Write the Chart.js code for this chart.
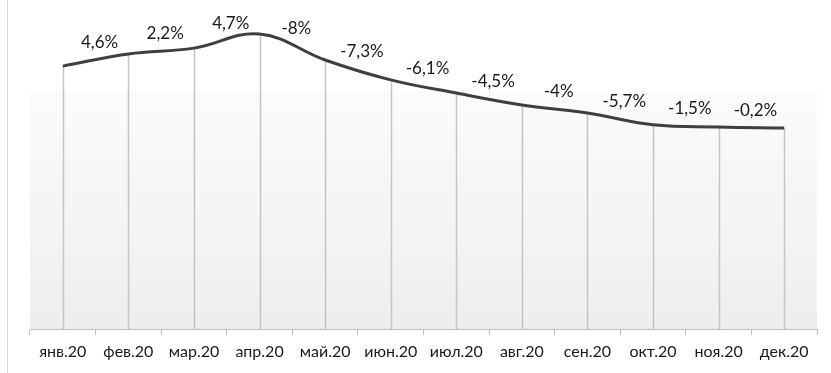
<!DOCTYPE html>
<html>
<head>
<meta charset="utf-8">
<script src="https://cdn.jsdelivr.net/npm/chart.js@4/dist/chart.umd.min.js"></script>
<style>
  html, body { margin: 0; padding: 0; background: #fff; }
  #wrap { width: 831px; height: 373px; }
</style>
</head>
<body>
<div id="wrap"><canvas id="myChart" width="831" height="373"></canvas></div>
<script>
const months = ["янв.20", "фев.20", "мар.20", "апр.20", "май.20", "июн.20",
                "июл.20", "авг.20", "сен.20", "окт.20", "ноя.20", "дек.20"];
const level = [81.9, 85.7, 87.5, 91.9, 83.8, 77.6, 73.5, 69.8, 67.3, 63.6, 62.9, 62.6];
// month-to-month change, shown between neighbouring points
const change = [4.6, 2.2, 4.7, -8, -7.3, -6.1, -4.5, -4, -5.7, -1.5, -0.2];

const fmt = v => String(v).replace(".", ",") + "%";

// plot background, left frame line, drop lines from points to the axis
const backdrop = {
  id: "backdrop",
  beforeDraw(chart) {
    const { ctx, chartArea: a } = chart;
    ctx.save();
    const g = ctx.createLinearGradient(0, a.top, 0, a.bottom);
    g.addColorStop(0, "#ffffff");
    g.addColorStop(0.25, "#ffffff");
    g.addColorStop(0.27, "#fbfbfb");
    g.addColorStop(1, "#eeeeee");
    ctx.fillStyle = g;
    ctx.fillRect(a.left, a.top, a.right - a.left, a.bottom - a.top);
    ctx.strokeStyle = "#d6d6d6";
    ctx.lineWidth = 1;
    ctx.beginPath();
    ctx.moveTo(7.5, 0);
    ctx.lineTo(7.5, chart.height);
    ctx.stroke();
    ctx.restore();
  },
  beforeDatasetsDraw(chart) {
    const { ctx, chartArea: a } = chart;
    const pts = chart.getDatasetMeta(0).data;
    ctx.save();
    ctx.strokeStyle = "#c4c4c4";
    ctx.lineWidth = 1.5;
    pts.forEach(p => {
      ctx.beginPath();
      ctx.moveTo(Math.round(p.x) + 0.5, p.y);
      ctx.lineTo(Math.round(p.x) + 0.5, a.bottom);
      ctx.stroke();
    });
    ctx.restore();
  }
};

const changeLabels = {
  id: "changeLabels",
  afterDatasetsDraw(chart) {
    const { ctx } = chart;
    const pts = chart.getDatasetMeta(0).data;
    ctx.save();
    ctx.font = "17px Lato";
    ctx.fillStyle = "#1a1a1a";
    ctx.textAlign = "center";
    ctx.textBaseline = "middle";
    change.forEach((v, i) => {
      const a = pts[i], b = pts[i + 1];
      const x = (a.x + b.x) / 2 + 4;
      const y = Math.min(a.y, b.y) + Math.abs(a.y - b.y) * 0.45 - 17;
      ctx.fillText(fmt(v), x, y);
    });
    ctx.restore();
  }
};

const ctx = document.getElementById("myChart");
new Chart(ctx, {
  type: "line",
  data: {
    labels: months,
    datasets: [
      {
        data: level,
        borderColor: "#3f3f3f",
        borderWidth: 3,
        tension: 0.4,
        pointRadius: 0,
        fill: false
      }
    ]
  },
  options: {
    responsive: false,
    animation: false,
    layout: { padding: { left: 30, right: 14, top: 8, bottom: 0 } },
    plugins: { legend: { display: false }, tooltip: { enabled: false } },
    scales: {
      x: {
        offset: true,
        afterFit: s => { s.height = 44; },
        grid: {
          offset: true,
          drawOnChartArea: false,
          tickLength: 6,
          color: "#bdbdbd"
        },
        border: { color: "#bdbdbd", width: 1 },
        ticks: {
          padding: 7,
          font: { family: "Lato", size: 16 },
          color: "#1a1a1a",
          maxRotation: 0,
          autoSkip: false
        }
      },
      y: {
        display: false,
        min: 0,
        max: 100
      }
    }
  },
  plugins: [backdrop, changeLabels]
});
</script>
</body>
</html>
